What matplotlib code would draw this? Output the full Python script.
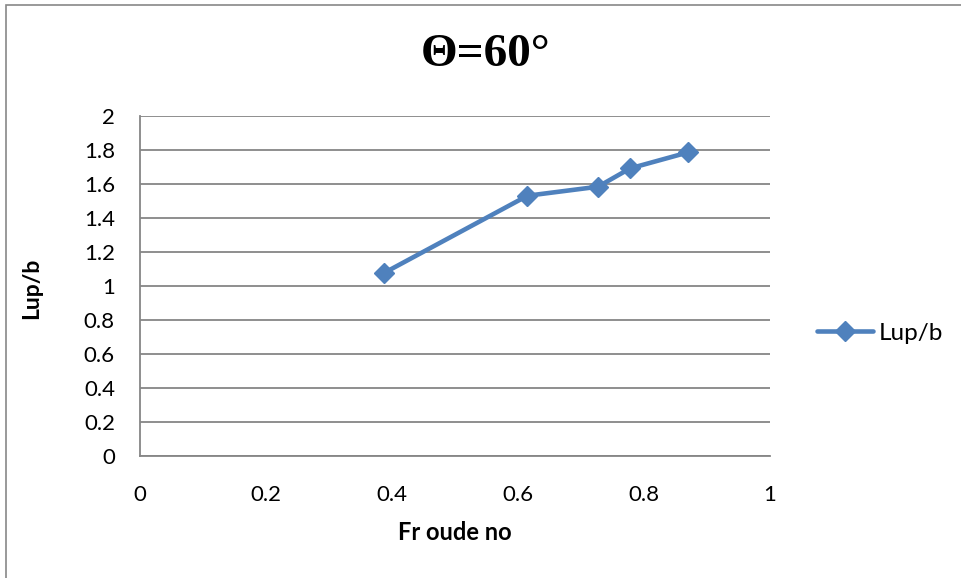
import matplotlib
matplotlib.use("Agg")
import matplotlib.pyplot as plt
from matplotlib.patches import Rectangle
from matplotlib.lines import Line2D

# Froude number vs. relative upstream length
froude = [0.388, 0.615, 0.727, 0.778, 0.870]
lup_b = [1.078, 1.531, 1.584, 1.692, 1.786]
series_name = "Lup/b"
x_ticks = [0, 0.2, 0.4, 0.6, 0.8, 1]
x_tick_labels = ["0", "0.2", "0.4", "0.6", "0.8", "1"]
y_ticks = [0, 0.2, 0.4, 0.6, 0.8, 1, 1.2, 1.4, 1.6, 1.8, 2]
y_tick_labels = ["0", "0.2", "0.4", "0.6", "0.8", "1", "1.2", "1.4", "1.6", "1.8", "2"]
title = "Θ=60°"
x_label = "Fr oude no"
y_label = "Lup/b"

W, H = 962, 578
fig = plt.figure(figsize=(W / 100, H / 100), dpi=100)
fig.patch.set_facecolor("white")

# chart frame (left and top edges visible)
fig.patches.append(Rectangle((6 / W, -0.1), 1.2, 1 - 5 / H + 0.1,
                             transform=fig.transFigure, fill=False,
                             edgecolor="#888888", linewidth=1.2))

ax = fig.add_axes([140 / W, 1 - 456 / H, 630 / W, 340 / H])
ax.set_xlim(0, 1)
ax.set_ylim(0, 2)

blue = "#4F81BD"
grid_c = "#868686"
font = "Lato"

ax.plot(froude, lup_b, color=blue, linewidth=3.3, marker="D",
        markersize=10, markerfacecolor=blue, markeredgecolor=blue,
        solid_capstyle="round", zorder=3)

ax.set_yticks(y_ticks)
ax.set_yticklabels(y_tick_labels)
ax.set_xticks(x_ticks)
ax.set_xticklabels(x_tick_labels)
ax.yaxis.grid(True, color=grid_c, linewidth=1.3)
ax.set_axisbelow(True)
ax.tick_params(axis="both", length=0, labelsize=16, labelcolor="black")
ax.tick_params(axis="y", pad=18)
ax.tick_params(axis="x", pad=21)
for lab in ax.get_xticklabels() + ax.get_yticklabels():
    lab.set_fontfamily(font)

for s in ["top", "right"]:
    ax.spines[s].set_visible(False)
for s in ["left", "bottom"]:
    ax.spines[s].set_color(grid_c)
    ax.spines[s].set_linewidth(1.3)

fig.text(486 / W, 1 - 55 / H, title, family="Liberation Serif",
         fontweight="bold", fontsize=34, ha="center", va="center")
fig.text(455 / W, 1 - 533 / H, x_label, family=font, fontweight="bold",
         fontsize=17, ha="center", va="center")
fig.text(32 / W, 1 - 288 / H, y_label, family=font, fontweight="bold",
         fontsize=16.5, ha="center", va="center", rotation=90)

handle = Line2D([], [], color=blue, linewidth=3.3, marker="D", markersize=10,
                solid_capstyle="round")
leg = fig.legend([handle], [series_name], loc="center left",
                 bbox_to_anchor=(817 / W, 1 - 333 / H), frameon=False,
                 handlelength=2.3, handletextpad=0.25, borderaxespad=0,
                 borderpad=0, prop={"family": font, "size": 17.5})

fig.savefig("out.png", dpi=100, facecolor="white")
